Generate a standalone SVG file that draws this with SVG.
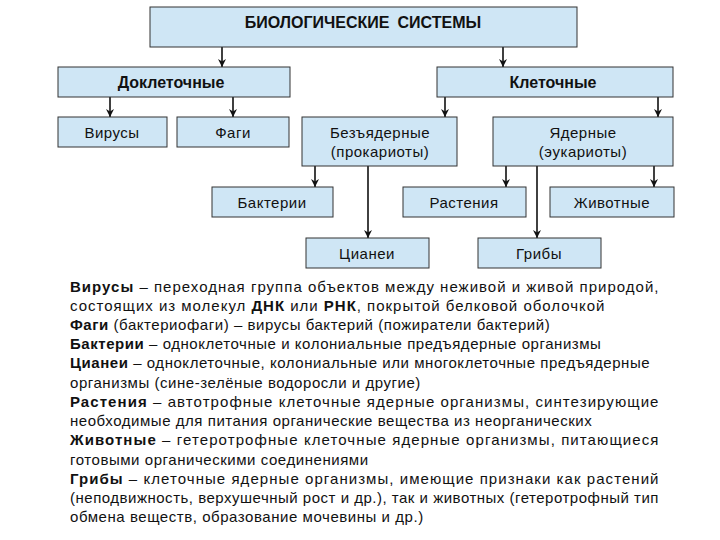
<svg xmlns="http://www.w3.org/2000/svg" width="720" height="540" viewBox="0 0 720 540">
<defs>
<style>
.box{fill:#cfe6f5;stroke:#333;stroke-width:1}
.t{font-family:"Liberation Sans",Arial,sans-serif;font-size:15px;letter-spacing:0.5px;fill:#111;text-anchor:middle}
.tb{font-family:"Liberation Sans",Arial,sans-serif;font-size:16px;font-weight:bold;fill:#111;text-anchor:middle}
.c{stroke:#111;stroke-width:1.6;fill:none;marker-end:url(#ah)}
.p{font-family:"Liberation Sans",Arial,sans-serif;font-size:15px;letter-spacing:0.55px;fill:#111}
.p tspan.b{font-weight:bold}
</style>
<marker id="ah" viewBox="0 0 10 10" refX="10" refY="5" markerWidth="8" markerHeight="8" markerUnits="userSpaceOnUse" orient="auto">
<path d="M0,0 L10,5 L0,10 L3,5 Z" fill="#111"/>
</marker>
</defs>
<rect width="720" height="540" fill="#fff"/>
<g id="connectors">
<line class="c" x1="222" y1="47" x2="222" y2="67"/>
<line class="c" x1="503" y1="47" x2="503" y2="67"/>
<line class="c" x1="110" y1="97" x2="110" y2="117"/>
<line class="c" x1="233" y1="97" x2="233" y2="117"/>
<line class="c" x1="445" y1="97" x2="445" y2="117"/>
<line class="c" x1="658" y1="97" x2="658" y2="117"/>
<line class="c" x1="315" y1="166" x2="315" y2="187"/>
<line class="c" x1="368" y1="166" x2="368" y2="238"/>
<line class="c" x1="506" y1="166" x2="506" y2="187"/>
<line class="c" x1="537" y1="166" x2="537" y2="238"/>
<line class="c" x1="654" y1="166" x2="654" y2="187"/>
</g>
<g id="bio"><rect class="box" x="150" y="7" width="427" height="40"/><text class="tb" x="363" y="28">БИОЛОГИЧЕСКИЕ<tspan dx="8">СИСТЕМЫ</tspan></text></g>
<g id="pre"><rect class="box" x="58" y="67" width="232" height="30"/><text class="tb" x="171" y="88">Доклеточные</text></g>
<g id="cell"><rect class="box" x="437" y="67" width="236" height="30"/><text class="tb" x="553" y="88">Клеточные</text></g>
<g id="viruses"><rect class="box" x="58" y="117" width="109" height="30"/><text class="t" x="112" y="138">Вирусы</text></g>
<g id="phages"><rect class="box" x="177" y="117" width="112" height="30"/><text class="t" x="233" y="138">Фаги</text></g>
<g id="prok"><rect class="box" x="302" y="117" width="155" height="49"/><text class="t" x="380" y="138">Безъядерные</text><text class="t" x="380" y="157">(прокариоты)</text></g>
<g id="euk"><rect class="box" x="493" y="117" width="180" height="49"/><text class="t" x="583" y="138">Ядерные</text><text class="t" x="583" y="157">(эукариоты)</text></g>
<g id="bact"><rect class="box" x="212" y="187" width="121" height="30"/><text class="t" x="272" y="208">Бактерии</text></g>
<g id="plants"><rect class="box" x="403" y="187" width="123" height="30"/><text class="t" x="464" y="208">Растения</text></g>
<g id="animals"><rect class="box" x="550" y="187" width="124" height="30"/><text class="t" x="612" y="208">Животные</text></g>
<g id="cyan"><rect class="box" x="306" y="238" width="123" height="30"/><text class="t" x="367" y="259">Цианеи</text></g>
<g id="fungi"><rect class="box" x="478" y="238" width="123" height="30"/><text class="t" x="539" y="259">Грибы</text></g>
<g id="desc">
<text class="p" x="70" y="292" textLength="589" lengthAdjust="spacing"><tspan class="b">Вирусы</tspan> – переходная группа объектов между неживой и живой природой,</text>
<text class="p" x="70" y="311" textLength="535" lengthAdjust="spacing">состоящих из молекул <tspan class="b">ДНК</tspan> или <tspan class="b">РНК</tspan>, покрытой белковой оболочкой</text>
<text class="p" x="70" y="330"><tspan class="b">Фаги</tspan> (бактериофаги) – вирусы бактерий (пожиратели бактерий)</text>
<text class="p" x="70" y="349"><tspan class="b">Бактерии</tspan> – одноклеточные и колониальные предъядерные организмы</text>
<text class="p" x="70" y="368"><tspan class="b">Цианеи</tspan> – одноклеточные, колониальные или многоклеточные предъядерные</text>
<text class="p" x="70" y="388">организмы (сине-зелёные водоросли и другие)</text>
<text class="p" x="70" y="407" textLength="589" lengthAdjust="spacing"><tspan class="b">Растения</tspan> – автотрофные клеточные ядерные организмы, синтезирующие</text>
<text class="p" x="70" y="426">необходимые для питания органические вещества из неорганических</text>
<text class="p" x="70" y="445" textLength="589" lengthAdjust="spacing"><tspan class="b">Животные</tspan> – гетеротрофные клеточные ядерные организмы, питающиеся</text>
<text class="p" x="70" y="465">готовыми органическими соединениями</text>
<text class="p" x="70" y="484" textLength="589" lengthAdjust="spacing"><tspan class="b">Грибы</tspan> – клеточные ядерные организмы, имеющие признаки как растений</text>
<text class="p" x="70" y="503" textLength="589" lengthAdjust="spacing">(неподвижность, верхушечный рост и др.), так и животных (гетеротрофный тип</text>
<text class="p" x="70" y="522">обмена веществ, образование мочевины и др.)</text>
</g>
</svg>
